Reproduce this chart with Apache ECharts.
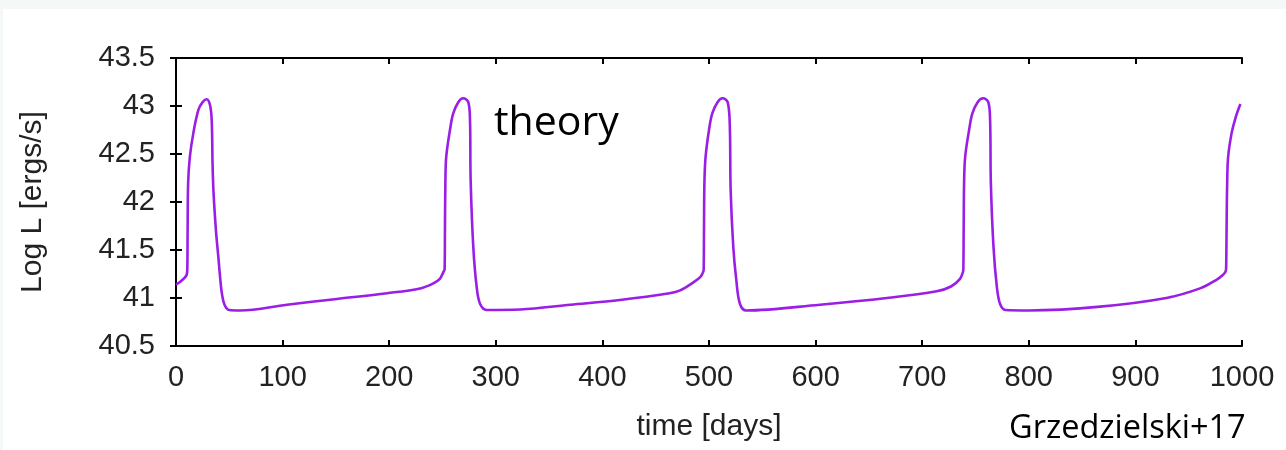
<!DOCTYPE html>
<html>
<head>
<meta charset="utf-8">
<script src="https://cdn.jsdelivr.net/npm/echarts@6/dist/echarts.min.js"></script>
<style>
html,body{margin:0;padding:0;background:#f4f9f7;}
#chart{width:1286px;height:450px;}
</style>
</head>
<body>
<div id="chart"></div>
<script>
// ---- data ----
const xTicks = [0, 100, 200, 300, 400, 500, 600, 700, 800, 900, 1000];
const yTicks = [40.5, 41, 41.5, 42, 42.5, 43, 43.5];

const days1 = [0, 4, 8, 10, 10.6, 10.9, 11.4, 13, 16.3, 21, 25, 28.8, 31.9, 33.5, 34.3, 35.2, 37.5, 39.7, 41.5, 43, 45.5, 50, 60, 104, 151, 198, 229, 241, 247.5, 250.8];
const logL1 = [41.14, 41.17, 41.21, 41.24, 41.3, 41.7, 42.2, 42.47, 42.72, 42.96, 43.04, 43.07, 43.01, 42.85, 42.4, 42.1, 41.7, 41.43, 41.2, 41.05, 40.93, 40.875, 40.87, 40.93, 40.99, 41.05, 41.1, 41.15, 41.2, 41.27];

const days2 = [252, 252.3, 252.7, 253.5, 257, 260, 264.8, 269.5, 274.2, 275.8, 276.4, 278.9, 282, 285.2, 291.4, 323, 370, 416.5, 463, 473, 485, 492, 494.5];
const logL2 = [41.3, 41.7, 42.2, 42.47, 42.75, 42.92, 43.04, 43.08, 43.04, 42.85, 42.23, 41.53, 41.12, 40.94, 40.875, 40.88, 40.93, 40.98, 41.05, 41.08, 41.16, 41.22, 41.27];

const days3 = [495, 495.3, 495.7, 496.8, 500, 503, 508, 512.8, 517.5, 519.5, 520.3, 522.8, 525.5, 529, 535, 604, 667, 713.6, 727, 735.5, 738.2];
const logL3 = [41.3, 41.7, 42.2, 42.47, 42.75, 42.92, 43.04, 43.08, 43.04, 42.8, 42.13, 41.53, 41.2, 40.94, 40.87, 40.93, 41.0, 41.07, 41.12, 41.2, 41.27];

const days4 = [738.6, 738.9, 739.3, 740.3, 744, 747, 752, 757.3, 762, 763.7, 764.4, 766.9, 770, 773, 778, 800, 867, 929, 960.6, 976, 982, 984.8];
const logL4 = [41.3, 41.7, 42.2, 42.47, 42.75, 42.92, 43.04, 43.08, 43.04, 42.85, 42.2, 41.53, 41.12, 40.94, 40.875, 40.87, 40.91, 41.0, 41.1, 41.19, 41.24, 41.28];

const days5 = [985.2, 985.6, 986.1, 987, 990.3, 994, 998.5];
const logL5 = [41.35, 41.8, 42.2, 42.47, 42.72, 42.88, 43.02];

const xName = 'time [days]';
const yName = 'Log L [ergs/s]';
const annotation = 'theory';
const credit = 'Grzedzielski+17';
// ---------------------------------------

const days = [].concat(days1, days2, days3, days4, days5);
const logL = [].concat(logL1, logL2, logL3, logL4, logL5);
const lineData = days.map((d, i) => [d, logL[i]]);

const axisFont = '"Liberation Sans", Arial, Helvetica, sans-serif';
const lineStyleAxis = { color: '#000', width: 2 };
const fmt = v => String(v);

const chart = echarts.init(document.getElementById('chart'), null, { renderer: 'canvas' });
chart.setOption({
  backgroundColor: '#f4f9f7',
  animation: false,
  grid: { left: 176, top: 58, width: 1066, height: 288, containLabel: false },
  xAxis: [
    {
      type: 'value', min: xTicks[0], max: xTicks[xTicks.length - 1], interval: 100,
      position: 'bottom',
      name: xName, nameLocation: 'middle', nameGap: 66,
      nameTextStyle: { fontFamily: axisFont, fontSize: 30, color: '#222' },
      axisLine: { show: true, lineStyle: lineStyleAxis },
      axisTick: { show: true, inside: true, length: 6, lineStyle: lineStyleAxis },
      axisLabel: { fontFamily: axisFont, fontSize: 29, color: '#222', margin: 17, formatter: fmt },
      splitLine: { show: false }
    },
    {
      type: 'value', min: xTicks[0], max: xTicks[xTicks.length - 1], interval: 100,
      position: 'top',
      axisLine: { show: true, lineStyle: lineStyleAxis },
      axisTick: { show: true, inside: true, length: 6, lineStyle: lineStyleAxis },
      axisLabel: { show: false },
      splitLine: { show: false }
    }
  ],
  yAxis: [
    {
      type: 'value', min: yTicks[0], max: yTicks[yTicks.length - 1], interval: 0.5,
      position: 'left',
      name: yName, nameLocation: 'middle', nameGap: 128,
      nameTextStyle: { fontFamily: axisFont, fontSize: 30, color: '#222' },
      axisLine: { show: true, lineStyle: lineStyleAxis },
      axisTick: { show: true, inside: true, length: 6, lineStyle: lineStyleAxis },
      axisLabel: { fontFamily: axisFont, fontSize: 29, color: '#222', margin: 21, formatter: fmt },
      splitLine: { show: false }
    },
    {
      type: 'value', min: yTicks[0], max: yTicks[yTicks.length - 1], interval: 0.5,
      position: 'right',
      axisLine: { show: true, lineStyle: lineStyleAxis },
      axisTick: { show: true, inside: true, length: 6, lineStyle: lineStyleAxis },
      axisLabel: { show: false },
      splitLine: { show: false }
    }
  ],
  graphic: [
    { type: 'rect', left: 3, top: 9, shape: { width: 1283, height: 441 }, style: { fill: '#ffffff' }, z: -10, silent: true },
    { type: 'text', left: 494, top: 103, style: { text: annotation, font: '41px "Open Sans", sans-serif', fill: '#000' }, z: 10 },
    { type: 'text', left: 1009, top: 412, style: { text: credit, font: '32.5px "Open Sans", sans-serif', fill: '#000' }, z: 10 }
  ],
  series: [{
    type: 'line',
    xAxisIndex: 0, yAxisIndex: 0,
    data: lineData,
    showSymbol: false,
    smooth: 0.35,
    lineStyle: { color: '#9a1ee6', width: 2.6 },
    z: 5
  }]
});
</script>
</body>
</html>
